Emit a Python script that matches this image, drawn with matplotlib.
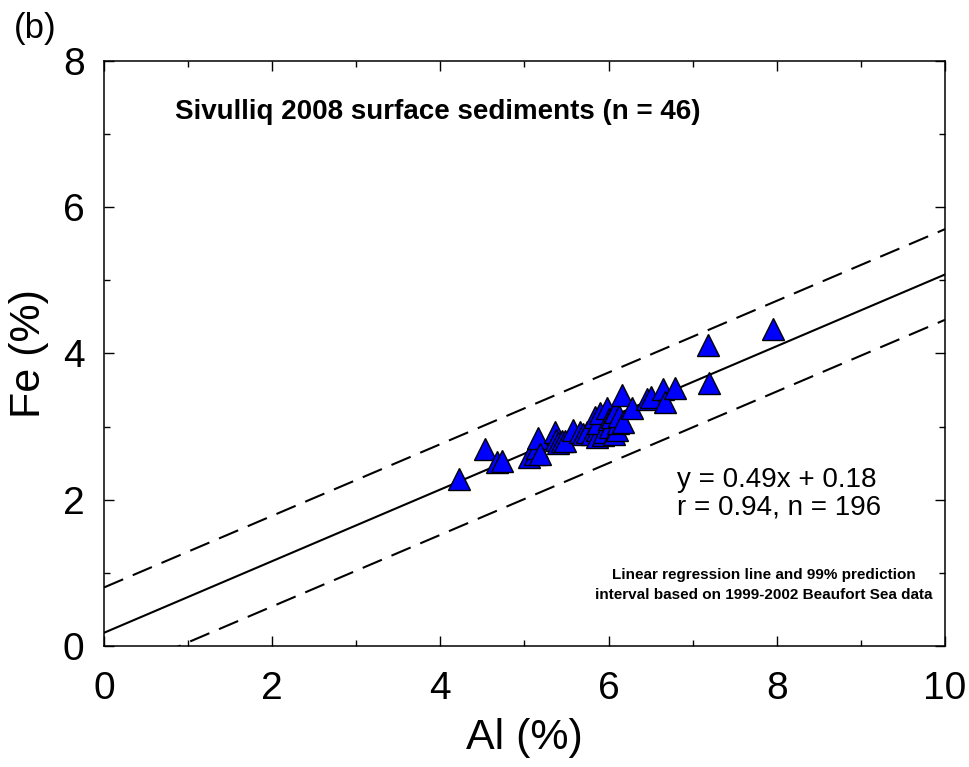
import matplotlib
matplotlib.use("Agg")
import matplotlib.pyplot as plt
import numpy as np
from matplotlib.ticker import MultipleLocator

plt.rcParams['font.family'] = ['Liberation Sans', 'DejaVu Sans']

# Sivulliq 2008 surface sediments
al = [4.22, 4.53, 4.67, 4.73, 5.05, 5.12, 5.15, 5.16, 5.18, 5.36,
      5.37, 5.40, 5.45, 5.48, 5.58, 5.66, 5.70, 5.74, 5.80, 5.84,
      5.86, 5.86, 5.88, 5.90, 5.93, 5.95, 5.98, 6.00, 6.02, 6.04,
      6.06, 6.08, 6.10, 6.11, 6.12, 6.16, 6.17, 6.28, 6.46, 6.50,
      6.65, 6.67, 6.79, 7.18, 7.20, 7.95]
fe = [2.29, 2.70, 2.52, 2.53, 2.59, 2.63, 2.71, 2.85, 2.62, 2.93,
      2.82, 2.78, 2.80, 2.80, 2.95, 2.93, 2.90, 2.93, 2.90, 3.13,
      2.95, 2.86, 3.05, 3.18, 2.89, 2.92, 3.26, 3.10, 3.00, 3.13,
      2.90, 3.20, 2.95, 3.05, 3.15, 3.43, 3.06, 3.26, 3.38, 3.40,
      3.52, 3.34, 3.53, 4.12, 3.60, 4.34]

# Beaufort Sea 1999-2002 regression and 99% prediction interval
slope = 0.49
intercept = 0.18
pi_half = 0.62

fig = plt.figure(figsize=(9.69, 7.67), dpi=100)
ax = fig.add_axes([0.1073, 0.1578, 0.8679, 0.7627])

xl = np.array([0, 10])
ax.plot(xl, slope * xl + intercept, color='black', lw=1.5)
ax.plot(xl, slope * xl + intercept + pi_half, color='black', lw=1.5, dashes=(10, 5))
ax.plot(xl, slope * xl + intercept - pi_half, color='black', lw=1.5, dashes=(10, 5))

ax.plot(al, fe, linestyle='none', marker='^', markersize=16,
        markerfacecolor='#0000ff', markeredgecolor='black', markeredgewidth=1)

ax.set_xlim(0, 10)
ax.set_ylim(0, 8)
ax.xaxis.set_major_locator(MultipleLocator(2))
ax.xaxis.set_minor_locator(MultipleLocator(1))
ax.yaxis.set_major_locator(MultipleLocator(2))
ax.yaxis.set_minor_locator(MultipleLocator(1))
ax.tick_params(which='both', direction='in', top=True, right=True, width=1)
ax.tick_params(which='major', length=7, labelsize=28)
ax.tick_params(axis='x', which='major', pad=18)
ax.tick_params(axis='y', which='major', pad=14)
ax.tick_params(which='minor', length=4)
for s in ax.spines.values():
    s.set_linewidth(1.1)

ax.set_xlabel('Al (%)', fontsize=31, labelpad=8)
ax.set_ylabel('Fe (%)', fontsize=31, labelpad=10)

ax.text(0.397, 0.913, 'Sivulliq 2008 surface sediments (n = 46)', transform=ax.transAxes,
        fontsize=20, fontweight='bold', ha='center', va='center')
ax.text(0.681, 0.26, 'y = 0.49x + 0.18\nr = 0.94, n = 196', transform=ax.transAxes,
        fontsize=20, ha='left', va='center', linespacing=1.05)
ax.text(0.985, 0.104, 'Linear regression line and 99% prediction\ninterval based on 1999-2002 Beaufort Sea data',
        transform=ax.transAxes, fontsize=11, fontweight='bold', ha='right', va='center',
        multialignment='center', linespacing=1.5)
fig.text(0.036, 0.963, '(b)', fontsize=25, ha='center', va='center')

fig.savefig('out.png', dpi=100)
